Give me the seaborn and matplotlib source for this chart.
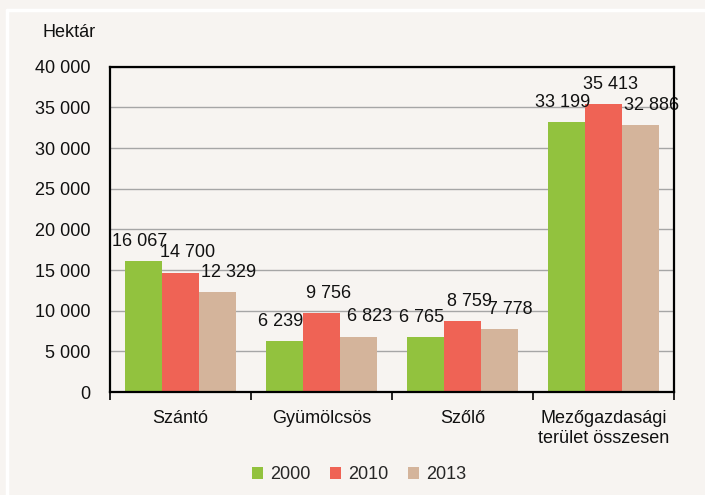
import matplotlib
matplotlib.use('Agg')
import matplotlib.pyplot as plt
from matplotlib.lines import Line2D
from matplotlib.ticker import FuncFormatter, FixedLocator
import seaborn as sns
import pandas as pd

categories = ['Szántó', 'Gyümölcsös', 'Szőlő', 'Mezőgazdasági\nterület összesen']
years = ['2000', '2010', '2013']
v2000 = [16067, 6239, 6765, 33199]
v2010 = [14700, 9756, 8759, 35413]
v2013 = [12329, 6823, 7778, 32886]

df = pd.DataFrame({
    'kat': categories * 3,
    'ev': [y for y in years for _ in categories],
    'ha': v2000 + v2010 + v2013,
})

sns.set_theme(style='white')
plt.rcParams['font.family'] = ['Liberation Sans', 'DejaVu Sans']
fs = 13

bg = '#f7f4f1'
colors = ['#92c23e', '#ef6355', '#d4b49b']

fig = plt.figure(figsize=(7.05, 4.95), dpi=100, facecolor=bg)
ax = fig.add_axes([0.156, 0.208, 0.800, 0.657], facecolor=bg)

sns.barplot(data=df, x='kat', y='ha', hue='ev', palette=colors,
            width=0.79, saturation=1, linewidth=0, ax=ax, zorder=3)

fmt = lambda v: f'{int(round(v)):,}'.replace(',', ' ')
# labels sit a little off-centre in the original (shift in points per series)
shifts = [-3, 5, 8]
for c, dx in zip(ax.containers, shifts):
    texts = ax.bar_label(c, labels=[fmt(v) for v in c.datavalues], padding=8,
                         fontsize=fs, color='#111111')
    for t in texts:
        x0, y0 = t.xyann
        t.xyann = (x0 + dx, y0)

ax.set_ylim(0, 40000)
ax.set_yticks(range(0, 40001, 5000))
ax.yaxis.set_major_formatter(FuncFormatter(lambda v, p: fmt(v)))
ax.grid(axis='y', color='#a6a6a6', linewidth=1, zorder=0)
ax.set_xlim(-0.5, 3.5)
ax.xaxis.set_minor_locator(FixedLocator([-0.5, 0.5, 1.5, 2.5, 3.5]))
ax.tick_params(axis='x', which='major', length=0, labelsize=fs, pad=13,
               labelcolor='#111111')
ax.tick_params(axis='x', which='minor', length=6, width=1.2, color='black', bottom=True)
ax.tick_params(axis='y', length=0, labelsize=fs, pad=14, labelcolor='#111111')
ax.set_xlabel('')
ax.set_ylabel('')
for s in ax.spines.values():
    s.set_color('black')
    s.set_linewidth(1.6)
    s.set_zorder(5)

ax.text(-0.025, 1.105, 'Hektár', transform=ax.transAxes, ha='right', va='center',
        fontsize=fs, color='#111111')

leg = ax.legend(loc='center', bbox_to_anchor=(0.442, -0.255), ncol=3,
                frameon=False, fontsize=fs, handlelength=0.6, handleheight=0.6,
                columnspacing=1.1, handletextpad=0.4)

# white frame lines at top and left
fig.add_artist(Line2D([7 / 705, 1], [1 - 10 / 495] * 2, transform=fig.transFigure,
                      color='white', linewidth=2.5))
fig.add_artist(Line2D([7 / 705] * 2, [0, 1 - 10 / 495], transform=fig.transFigure,
                      color='white', linewidth=2.5))

fig.savefig('out.png', dpi=100, facecolor=bg)
